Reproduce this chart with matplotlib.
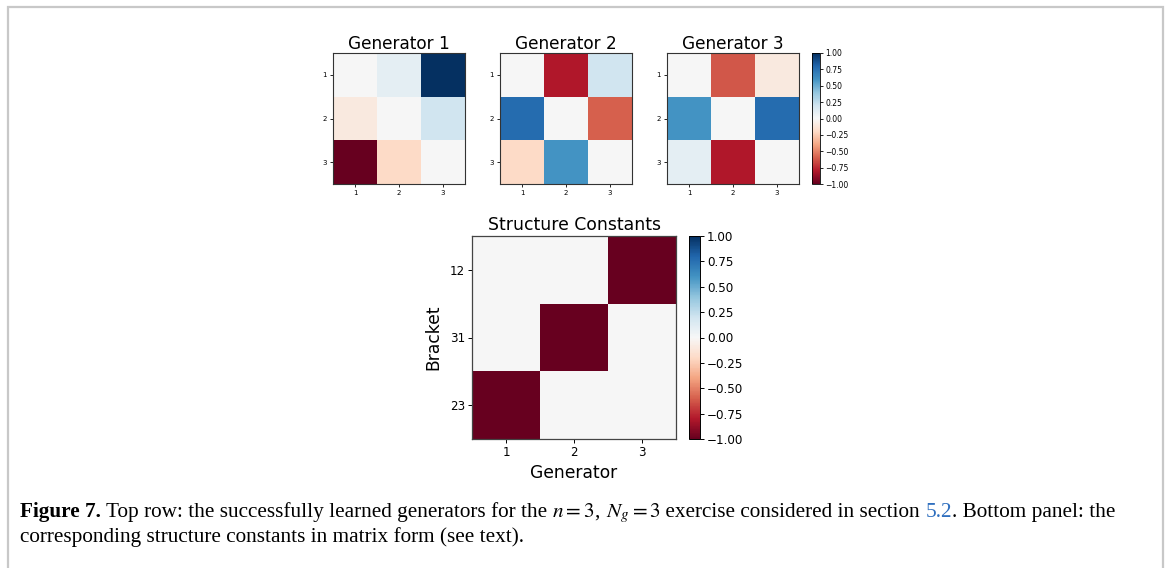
import matplotlib
matplotlib.use('Agg')
import matplotlib.pyplot as plt
import numpy as np
from matplotlib.patches import Rectangle

# Learned generators (antisymmetric 3x3 matrices)
gen1 = [[0.0, 0.10, 1.00],
        [-0.10, 0.0, 0.20],
        [-1.00, -0.20, 0.0]]
gen2 = [[0.0, -0.80, 0.20],
        [0.77, 0.0, -0.60],
        [-0.20, 0.60, 0.0]]
gen3 = [[0.0, -0.62, -0.10],
        [0.60, 0.0, 0.77],
        [0.10, -0.80, 0.0]]
generators = [gen1, gen2, gen3]
gen_titles = ['Generator 1', 'Generator 2', 'Generator 3']
gen_ticks = ['1', '2', '3']

# Structure constants: rows are brackets, columns are generators
structure = [[0.0, 0.0, -1.0],
             [0.0, -1.0, 0.0],
             [-1.0, 0.0, 0.0]]
bracket_labels = ['12', '31', '23']
cbar_ticks = [-1.0, -0.75, -0.5, -0.25, 0.0, 0.25, 0.5, 0.75, 1.0]

plt.rcParams['mathtext.fontset'] = 'stix'

W, H = 1168, 568
fig = plt.figure(figsize=(W / 100, H / 100), dpi=100)


def px_axes(x0, y0, x1, y1):
    # pixel box (top-left origin) -> figure fraction
    return fig.add_axes([x0 / W, 1 - y1 / H, (x1 - x0) / W, (y1 - y0) / H])


# outer frame
fig.add_artist(Rectangle((8 / W, -0.02), (1163 - 8) / W, 1 - 7 / H + 0.02,
                         transform=fig.transFigure, fill=False,
                         edgecolor='#c8c8c8', linewidth=1.6))

# --- top row: the three generators ---
lefts = [333, 500, 667]
for mat, title, x0 in zip(generators, gen_titles, lefts):
    ax = px_axes(x0, 53, x0 + 132, 184)
    im = ax.imshow(np.array(mat), cmap='RdBu', vmin=-1, vmax=1, aspect='auto')
    ax.set_title(title, fontsize=12.2, pad=2)
    ax.set_xticks(range(3))
    ax.set_xticklabels(gen_ticks)
    ax.set_yticks(range(3))
    ax.set_yticklabels(gen_ticks)
    ax.tick_params(labelsize=5, length=2.5, width=0.6, pad=2)
    for s in ax.spines.values():
        s.set_linewidth(0.8)
        s.set_edgecolor('#333333')

cax = px_axes(812, 53, 820, 184)
cb = fig.colorbar(im, cax=cax, ticks=cbar_ticks)
cb.ax.tick_params(labelsize=5.5, length=2.5, width=0.6, pad=1.5)
cb.outline.set_linewidth(0.6)

# --- bottom: structure constants ---
ax = px_axes(472, 236, 676, 439)
im = ax.imshow(np.array(structure), cmap='RdBu', vmin=-1, vmax=1, aspect='auto')
ax.set_title('Structure Constants', fontsize=12.4, pad=4)
ax.set_xticks(range(3))
ax.set_xticklabels(gen_ticks)
ax.set_yticks(range(3))
ax.set_yticklabels(bracket_labels)
ax.set_xlabel('Generator', fontsize=12.3, labelpad=4)
ax.set_ylabel('Bracket', fontsize=12.3, labelpad=5)
ax.tick_params(labelsize=8.6, length=3, width=0.7, pad=2)
for s in ax.spines.values():
    s.set_linewidth(0.9)
    s.set_edgecolor('#444444')

cax = px_axes(689, 236, 700, 439)
cb = fig.colorbar(im, cax=cax, ticks=cbar_ticks)
cb.ax.tick_params(labelsize=8.6, length=3, width=0.7, pad=2)
cb.outline.set_linewidth(0.7)

# --- caption, drawn piece by piece ---
fig.canvas.draw()
renderer = fig.canvas.get_renderer()
cap_font = dict(family='Liberation Serif', fontsize=15.3)


def run_text(pieces, x, y):
    for txt, kw in pieces:
        t = fig.text(x / W, 1 - y / H, txt, va='baseline', ha='left',
                     **cap_font, **kw)
        bb = t.get_window_extent(renderer)
        x += bb.width


line1 = [('Figure 7.', dict(weight='bold')),
         (' Top row: the successfully learned generators for the ', {}),
         (r'$n = 3$', {}),
         (', ', {}),
         (r'$N_g = 3$', {}),
         (' exercise considered in section ', {}),
         ('5.2', dict(color='#2f6fbf')),
         ('. Bottom panel: the', {})]
line2 = [('corresponding structure constants in matrix form (see text).', {})]
run_text(line1, 20, 517)
run_text(line2, 20, 542)

fig.savefig('out.png', dpi=100)
